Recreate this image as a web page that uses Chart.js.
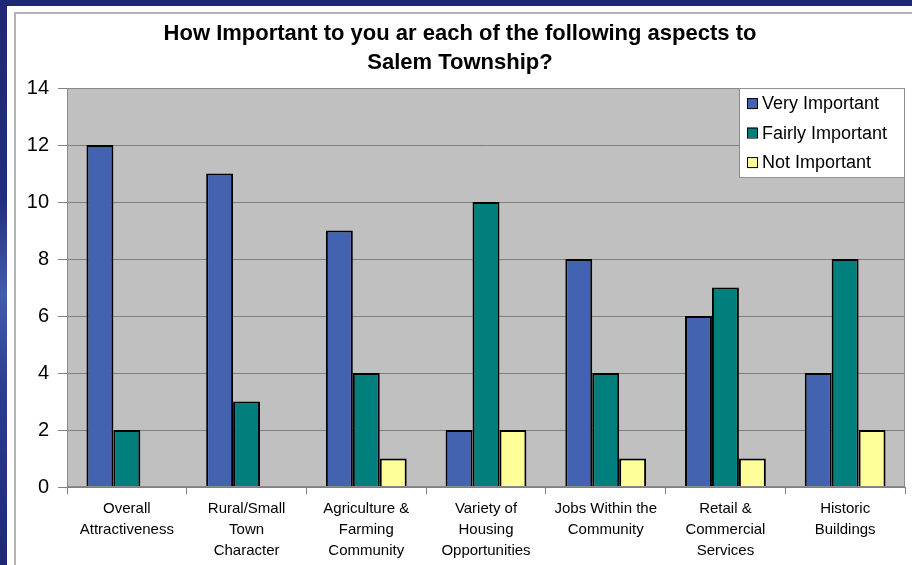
<!DOCTYPE html>
<html>
<head>
<meta charset="utf-8">
<script src="https://cdn.jsdelivr.net/npm/chart.js@4"></script>
<style>
  html, body { margin: 0; padding: 0; }
  body {
    width: 912px; height: 565px; overflow: hidden; position: relative;
    background: linear-gradient(to bottom, #1f2878 0%, #222c7e 35%, #3f5db0 52%, #2c3d94 68%, #1f2878 100%);
  }
  #panel { position: absolute; left: 7px; top: 6px; width: 905px; height: 559px; background: #fff; }
  #frame { position: absolute; left: 14px; top: 12px; width: 898px; height: 553px;
           border-left: 2px solid #b4b4b4; border-top: 2px solid #b4b4b4; box-sizing: border-box; }
  #wrap { position: absolute; left: 15px; top: 13px; width: 897px; height: 552px; }
</style>
</head>
<body>
<div id="panel"></div>
<div id="frame"></div>
<div id="wrap"><canvas id="c"></canvas></div>
<script>
// chart data
const categories = [
  ['Overall', 'Attractiveness'],
  ['Rural/Small', 'Town', 'Character'],
  ['Agriculture &', 'Farming', 'Community'],
  ['Variety of', 'Housing', 'Opportunities'],
  ['Jobs Within the', 'Community'],
  ['Retail &', 'Commercial', 'Services'],
  ['Historic', 'Buildings']
];
const veryImportant = [12, 11, 9, 2, 8, 6, 4];
const fairlyImportant = [2, 3, 4, 10, 4, 7, 8];
const notImportant = [0, 0, 1, 2, 1, 1, 2];
const seriesNames = ['Very Important', 'Fairly Important', 'Not Important'];
const seriesColors = ['#4363b0', '#007f7c', '#ffff99'];
const titleLines = ['How Important to you ar each of the following aspects to', 'Salem Township?'];

// gray plot background + border + legend inside the plot
const plotPlugin = {
  id: 'plotBg',
  beforeDraw(chart) {
    const { ctx, chartArea: a } = chart;
    ctx.save();
    ctx.fillStyle = '#c0c0c0';
    ctx.fillRect(a.left, a.top, a.right - a.left, a.bottom - a.top);
    ctx.restore();
  },
  afterDraw(chart) {
    const { ctx, chartArea: a } = chart;
    ctx.save();
    ctx.strokeStyle = '#8a8a8a';
    ctx.lineWidth = 1;
    ctx.strokeRect(a.left + 0.5, a.top + 0.5, a.right - a.left - 1, a.bottom - a.top - 1);

    // legend box
    const w = 166, h = 90;
    const x = a.right - w, y = a.top;
    ctx.fillStyle = '#ffffff';
    ctx.fillRect(x, y, w, h);
    ctx.strokeStyle = '#8a8a8a';
    ctx.strokeRect(x + 0.5, y + 0.5, w - 1, h - 1);
    ctx.font = '18px "Liberation Sans", Arial, sans-serif';
    ctx.textBaseline = 'middle';
    seriesNames.forEach((name, i) => {
      const cy = y + 15 + i * 29.5;
      ctx.fillStyle = seriesColors[i];
      ctx.fillRect(x + 8, cy - 5, 10, 10);
      ctx.strokeStyle = '#000';
      ctx.strokeRect(x + 8.5, cy - 4.5, 10, 10);
      ctx.fillStyle = '#000';
      ctx.fillText(name, x + 23, cy + 1);
    });
    ctx.restore();
  }
};

Chart.defaults.font.family = '"Liberation Sans", Arial, sans-serif';
Chart.defaults.color = '#000';

new Chart(document.getElementById('c'), {
  type: 'bar',
  data: {
    labels: categories,
    datasets: [
      { label: seriesNames[0], data: veryImportant, backgroundColor: seriesColors[0] },
      { label: seriesNames[1], data: fairlyImportant, backgroundColor: seriesColors[1] },
      { label: seriesNames[2], data: notImportant, backgroundColor: seriesColors[2] }
    ]
  },
  options: {
    responsive: true,
    maintainAspectRatio: false,
    animation: false,
    layout: { padding: { left: 0, right: 7, top: 0, bottom: 0 } },
    datasets: {
      bar: {
        borderColor: '#000',
        borderWidth: 2,
        categoryPercentage: 0.675,
        barPercentage: 1
      }
    },
    plugins: {
      legend: { display: false },
      tooltip: { enabled: false },
      title: {
        display: true,
        text: titleLines,
        color: '#000',
        font: { size: 22, weight: 'bold', lineHeight: 1.32 },
        padding: { top: 6, bottom: 11 }
      }
    },
    scales: {
      x: {
        grid: { drawOnChartArea: false, drawTicks: true, tickLength: 7, color: '#808080', offset: true },
        border: { color: '#808080' },
        ticks: { font: { size: 15, lineHeight: 1.4 }, padding: 4, maxRotation: 0, autoSkip: false }
      },
      y: {
        min: 0,
        max: 14,
        afterFit(scale) { scale.width = 52; },
        grid: { color: '#808080', tickLength: 9 },
        border: { color: '#808080' },
        ticks: { stepSize: 2, font: { size: 20 }, padding: 9 }
      }
    }
  },
  plugins: [plotPlugin]
});
</script>
</body>
</html>
